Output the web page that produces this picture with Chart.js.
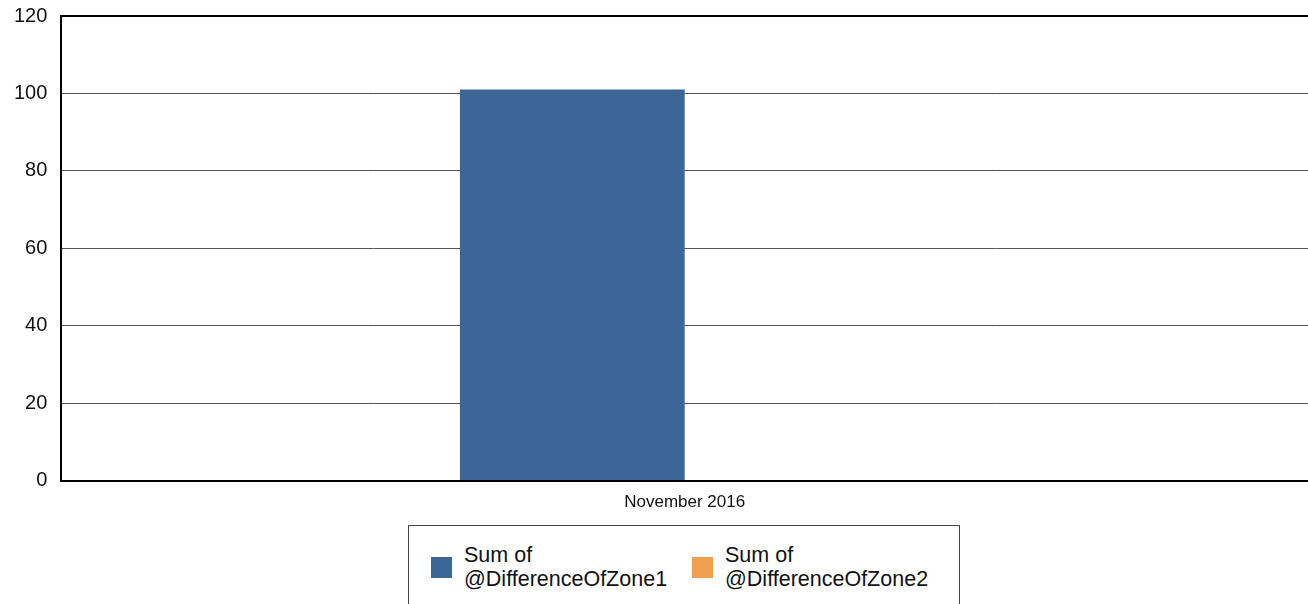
<!DOCTYPE html>
<html>
<head>
<meta charset="utf-8">
<script src="https://cdn.jsdelivr.net/npm/chart.js@4/dist/chart.umd.min.js"></script>
<style>
  body { margin: 0; background: #fff; font-family: Arial, "Liberation Sans", sans-serif; }
  #wrap { position: relative; width: 1308px; height: 604px; overflow: hidden; }
  #chart { position: absolute; left: 0; top: -10px; }
  #legend {
    position: absolute; left: 408px; top: 525px; width: 552px; height: 100px;
    border: 1px solid #444; box-sizing: border-box;
  }
  .item { position: absolute; top: 17px; font-size: 21.5px; line-height: 24px; color: #111; }
  .swatch { position: absolute; left: -33px; top: 14px; width: 21px; height: 21px; }
</style>
</head>
<body>
<div id="wrap">
  <canvas id="chart" width="1308" height="535"></canvas>
  <div id="legend"></div>
</div>
<script>
const categories = ["November 2016"];
const zone1 = [101];
const zone2 = [0];
const seriesNames = ["Sum of\n@DifferenceOfZone1", "Sum of\n@DifferenceOfZone2"];
const seriesColors = ["#3b6696", "#f0a150"];
const yTicks = [0, 20, 40, 60, 80, 100, 120];

const font = "Arial, 'Liberation Sans', sans-serif";

const ctx = document.getElementById("chart").getContext("2d");
new Chart(ctx, {
  type: "bar",
  data: {
    labels: categories,
    datasets: [
      { label: seriesNames[0], data: zone1, backgroundColor: seriesColors[0], borderWidth: 0 },
      { label: seriesNames[1], data: zone2, backgroundColor: seriesColors[1], borderWidth: 0 }
    ]
  },
  options: {
    responsive: false,
    animation: false,
    categoryPercentage: 0.3606,
    barPercentage: 1,
    layout: { padding: { left: 0, right: 0, top: 6, bottom: 0 } },
    plugins: { legend: { display: false }, tooltip: { enabled: false } },
    scales: {
      x: {
        grid: { display: false, drawTicks: false },
        border: { color: "#000", width: 2 },
        ticks: { color: "#111", font: { family: font, size: 17 }, padding: 12 }
      },
      y: {
        min: yTicks[0],
        max: yTicks[yTicks.length - 1],
        ticks: { stepSize: 20, color: "#111", font: { family: font, size: 20 }, padding: 14 },
        grid: {
          drawTicks: false,
          color: c => c.tick && c.tick.value === 120 ? "#000" : "#555",
          lineWidth: c => c.tick && c.tick.value === 120 ? 2 : 1
        },
        border: { color: "#000", width: 2 }
      }
    }
  }
});

// legend built from the series arrays
const legend = document.getElementById("legend");
const itemLefts = [55, 316];
seriesNames.forEach((name, i) => {
  const item = document.createElement("div");
  item.className = "item";
  item.style.left = itemLefts[i] + "px";
  item.innerHTML = name.split("\n").join("<br>");
  const sw = document.createElement("div");
  sw.className = "swatch";
  sw.style.background = seriesColors[i];
  item.appendChild(sw);
  legend.appendChild(item);
});
</script>
</body>
</html>
